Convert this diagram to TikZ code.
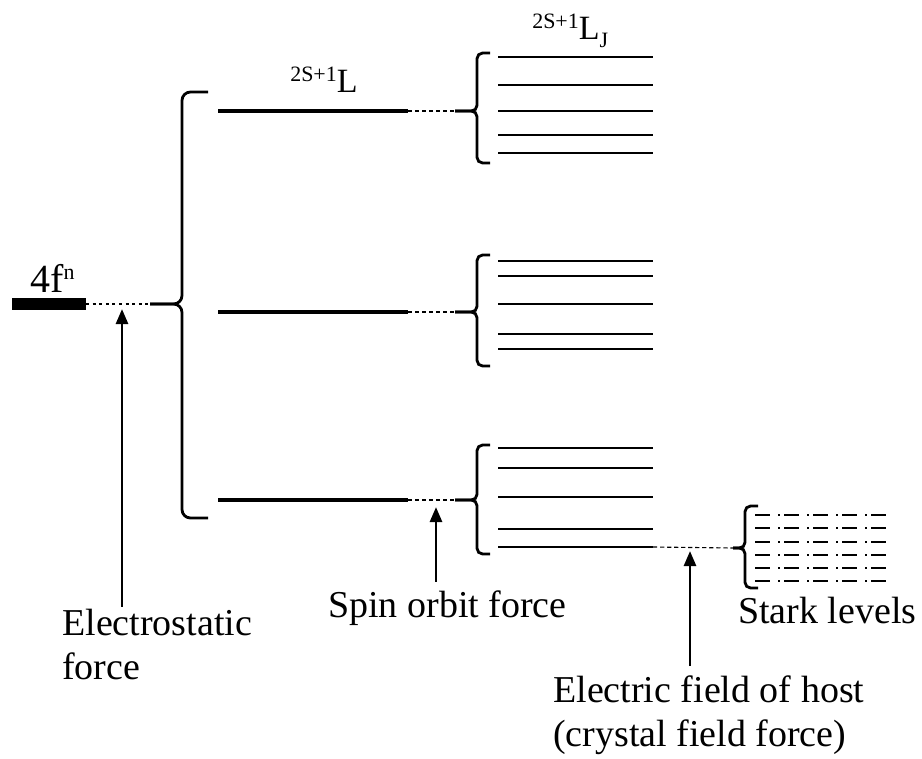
\documentclass[tikz,border=0pt]{standalone}
\usepackage{fontspec}
\setmainfont{Liberation Serif}
\usetikzlibrary{arrows.meta}
\begin{document}
\begin{tikzpicture}[x=0.025cm, y=-0.025cm,
  txt/.style={font=\fontsize{27}{30.6}\selectfont, inner sep=0pt, align=left},
  term/.style={inner sep=0pt},
  ionbar/.style={line width=8.5pt},
  termlevel/.style={line width=3.3pt},
  sublevel/.style={line width=1.4pt},
  splitbrace/.style={line width=2pt, rounded corners=4pt},
  splitgap/.style={line width=0.8pt, dash pattern=on 3pt off 2pt},
  ionlink/.style={line width=1.8pt, dash pattern=on 2.1pt off 2.6pt},
  starklevel/.style={line width=1.4pt, dash pattern=on 10.7pt off 5.7pt on 1.1pt off 3.2pt},
  force/.style={line width=2pt, -{Triangle[length=10.7pt, width=8.5pt]}}]
  \useasboundingbox (0,0) rectangle (922,758);
  \node[term, anchor=base west] (ion) at (30,292)
    {\fontsize{28.4}{30}\selectfont 4f\raisebox{9.2pt}{\fontsize{15.6}{16}\selectfont n}};
  \coordinate (ionL) at (12,304);
  \coordinate (ionR) at (86,304);
  \coordinate (bigtip) at (150,304);
  \draw[ionbar] (ionL) -- (ionR);
  \draw[ionlink] (ionR) -- (bigtip);
  \draw[splitbrace, rounded corners=6pt] (208,92) -| (182,304) -- (bigtip);
  \draw[splitbrace, rounded corners=6pt] (208,518) -| (182,304) -- (bigtip);
  \foreach \g/\y/\yt/\yb/\lst in {a/111/53/163/{57,85,111,135,153},
      b/312/255/366/{261,276,304,334,349},
      c/500/445/554/{448,468,497,529,547}} {
    \coordinate (L\g) at (218,\y);
    \coordinate (R\g) at (408,\y);
    \coordinate (T\g) at (455,\y);
    \draw[termlevel] (L\g) -- (R\g);
    \draw[splitgap] (R\g) -- (T\g);
    \draw[splitbrace] (490,\yt) -| (477,\y) -- (T\g);
    \draw[splitbrace] (490,\yb) -| (477,\y) -- (T\g);
    \foreach \s in \lst
      \draw[sublevel] (498,\s) -- (653,\s);
  }
  \node[term, anchor=base west] (termL) at (290,92)
    {\fontsize{15.6}{16}\selectfont\raisebox{7.8pt}{2S+1}\fontsize{24.2}{26}\selectfont L};
  \node[term, anchor=base west] (termLJ) at (532,39)
    {\fontsize{15.6}{16}\selectfont\raisebox{7.8pt}{2S+1}{\fontsize{24.2}{26}\selectfont L}\raisebox{-5.7pt}{J}};
  \coordinate (lowJ) at (653,547);
  \coordinate (starktip) at (733,548);
  \draw[splitgap] (lowJ) -- (starktip);
  \draw[splitbrace] (758,506) -| (745,548) -- (starktip);
  \draw[splitbrace] (758,588) -| (745,548) -- (starktip);
  \foreach \y in {515,528,542,555,568,581}
    \draw[starklevel] (755,\y) -- (891,\y);
  \node[txt, anchor=base west] (esText) at (62,679) {Electrostatic\\force};
  \node[txt, anchor=base west] (soText) at (328,617) {Spin orbit force};
  \node[txt, anchor=base west] (cfText) at (553,746) {Electric field of host\\(crystal field force)};
  \node[txt, anchor=base west] (skText) at (738,623) {Stark levels};
  \coordinate (esHead) at (122,309);
  \coordinate (soHead) at (436,507);
  \coordinate (cfHead) at (690,551);
  \draw[force, shorten <=2pt] (esText.north -| esHead) -- (esHead);
  \draw[force, shorten <=6pt] (soText.north -| soHead) -- (soHead);
  \draw[force, shorten <=7pt] (cfText.north -| cfHead) -- (cfHead);
\end{tikzpicture}
\end{document}
